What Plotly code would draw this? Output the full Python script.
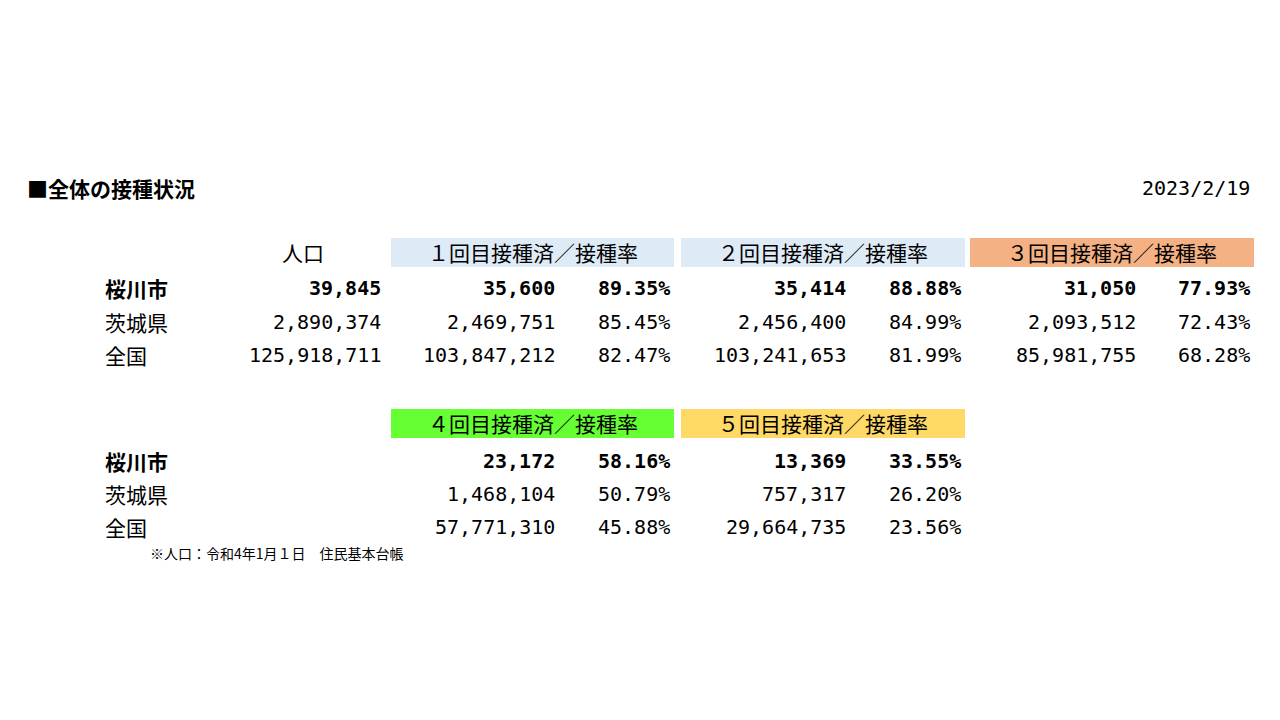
import plotly.graph_objects as go

regions = ["桜川市", "茨城県", "全国"]
population = ["39,845", "2,890,374", "125,918,711"]
dose_headers = ["１回目接種済／接種率", "２回目接種済／接種率", "３回目接種済／接種率",
                "４回目接種済／接種率", "５回目接種済／接種率"]
dose_colors = ["#deebf7", "#deebf7", "#f4b183", "#66ff33", "#ffd966"]
dose_counts = [
    ["35,600", "2,469,751", "103,847,212"],
    ["35,414", "2,456,400", "103,241,653"],
    ["31,050", "2,093,512", "85,981,755"],
    ["23,172", "1,468,104", "57,771,310"],
    ["13,369", "757,317", "29,664,735"],
]
dose_rates = [
    ["89.35%", "85.45%", "82.47%"],
    ["88.88%", "84.99%", "81.99%"],
    ["77.93%", "72.43%", "68.28%"],
    ["58.16%", "50.79%", "45.88%"],
    ["33.55%", "26.20%", "23.56%"],
]
title = "■全体の接種状況"
date = "2023/2/19"
note = "※人口：令和4年1月１日　住民基本台帳"

W, H = 1280, 720
OFF = 8
JP = "Noto Sans CJK JP"
NUM = "DejaVu Sans Mono"
fig = go.Figure()
ann = []
shapes = []

def px(x):
    return (x - OFF) / W

def py(y):
    return 1 - (y - OFF) / H

def txt(x, y, t, anchor="left", size=20, bold=False, font=JP, color="#000"):
    ann.append(dict(x=px(x), y=py(y), xref="paper", yref="paper", text=f"<b>{t}</b>" if bold else t,
                    showarrow=False, xanchor=anchor, yanchor="middle",
                    font=dict(family=font, size=size, color=color)))

txt(25, 188, title, bold=True, size=21)
txt(1252, 188, date, anchor="right", size=20, font=NUM)
txt(303, 252, "人口", anchor="center", size=21)

blocks = [(0, 252, [288, 322, 355], True), (3, 423, [461, 494, 527], False)]
col_x = [(391, 557, 672), (681, 848, 963), (970, 1138, 1252)]
for start, hy, rows, showpop in blocks:
    for j in range(3):
        d = start + j
        if d >= len(dose_headers):
            break
        x0, xc, xr = col_x[j]
        shapes.append(dict(type="rect", xref="paper", yref="paper", x0=px(x0), x1=px(xr + 2),
                           y0=py(hy + 15), y1=py(hy - 14), fillcolor=dose_colors[d], line_width=0, layer="below"))
        txt((x0 + xr + 2) / 2, hy, dose_headers[d], anchor="center", size=21)
        for i, ry in enumerate(rows):
            b = i == 0
            txt(xc, ry, dose_counts[d][i], anchor="right", bold=b, font=NUM, size=20)
            txt(xr, ry, dose_rates[d][i], anchor="right", bold=b, font=NUM, size=20)
    for i, ry in enumerate(rows):
        txt(103, ry, regions[i], bold=(i == 0), size=21)
        if showpop:
            txt(383, ry, population[i], anchor="right", bold=(i == 0), font=NUM, size=20)

txt(148, 553, note, size=14)

fig.update_layout(width=W, height=H, margin=dict(l=0, r=0, t=0, b=0),
                  paper_bgcolor="white", plot_bgcolor="white",
                  xaxis=dict(visible=False), yaxis=dict(visible=False),
                  annotations=ann, shapes=shapes)
fig.write_html("out.html")
